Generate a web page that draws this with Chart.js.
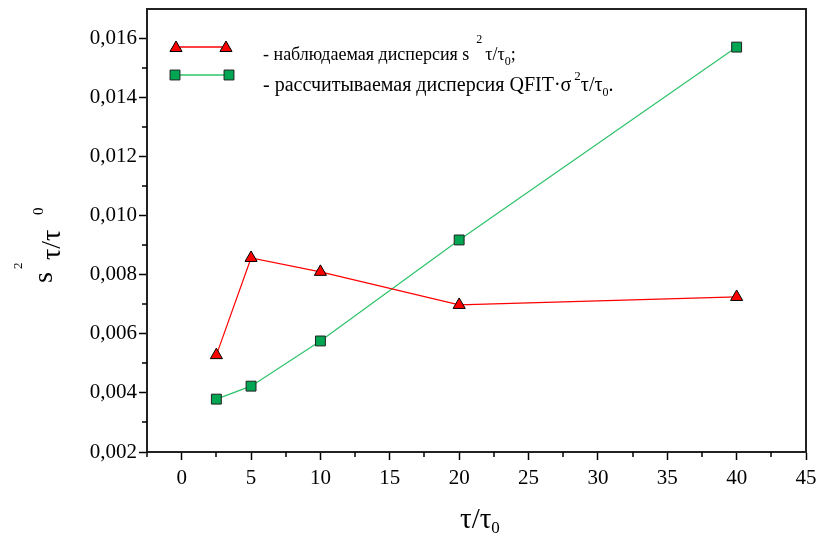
<!DOCTYPE html>
<html><head><meta charset="utf-8">
<script src="https://cdn.jsdelivr.net/npm/chart.js@4.4.1/dist/chart.umd.min.js"></script>
<style>html,body{margin:0;padding:0;background:#fff}#wrap{width:819px;height:538px;position:relative}</style>
</head><body><div id="wrap"><canvas id="c" width="819" height="538"></canvas></div>
<script>
// ---- data ----
const xValues = [2.5, 5, 10, 20, 40];
const observedValues = [0.00528, 0.00857, 0.00810, 0.00698, 0.00725];
const calculatedValues = [0.00379, 0.00423, 0.00576, 0.00918, 0.01571];
const xTickValues = [0, 5, 10, 15, 20, 25, 30, 35, 40, 45];
const xMinorValues = [-2.5, 2.5, 7.5, 12.5, 17.5, 22.5, 27.5, 32.5, 37.5, 42.5];
const yTickValues = [0.002, 0.004, 0.006, 0.008, 0.010, 0.012, 0.014, 0.016];
const yMinorValues = [0.003, 0.005, 0.007, 0.009, 0.011, 0.013, 0.015];
const legendObserved = ['- наблюдаемая дисперсия s', '2', 'τ/τ', '0', ';'];
const legendCalculated = ['- рассчитываемая дисперсия QFIT·σ', '2', 'τ/τ', '0', '.'];

const SERIF = '"Liberation Serif", "Times New Roman", serif';
const RED = '#ff0000', GREEN_FILL = '#00a651', GREEN_LINE = '#2ec36a';

function toPoints(xs, ys){ return xs.map((x,i)=>({x:x, y:ys[i]})); }

function drawRich(ctx, parts, x, y){
  let cx = x;
  for (const p of parts){
    cx += (p.pre||0);
    ctx.font = p.size + 'px ' + SERIF;
    ctx.fillText(p.t, cx, y + (p.dy||0));
    cx += ctx.measureText(p.t).width;
  }
}

function marker(ctx, style, x, y, fill, stroke){
  ctx.save();
  ctx.fillStyle = fill; ctx.strokeStyle = stroke; ctx.lineWidth = 1;
  if (Chart.helpers && Chart.helpers.drawPoint){
    Chart.helpers.drawPoint(ctx, {pointStyle: style, radius: 7, rotation: 0, borderWidth: 1}, x, y);
  }
  ctx.restore();
}

const decorPlugin = {
  id: 'decor',
  afterDraw(chart){
    const ctx = chart.ctx, a = chart.chartArea;
    const xs = chart.scales.x, ys = chart.scales.y;
    ctx.save();
    // frame top/right
    ctx.strokeStyle = '#222'; ctx.lineWidth = 2;
    ctx.beginPath();
    ctx.moveTo(a.left, a.top); ctx.lineTo(a.right, a.top); ctx.lineTo(a.right, a.bottom);
    ctx.stroke();
    // minor ticks
    ctx.lineWidth = 1.5; ctx.strokeStyle = '#000';
    ctx.beginPath();
    xMinorValues.forEach(v=>{ const px = Math.round(xs.getPixelForValue(v)); ctx.moveTo(px, a.bottom); ctx.lineTo(px, a.bottom+5); });
    yMinorValues.forEach(v=>{ const py = Math.round(ys.getPixelForValue(v)); ctx.moveTo(a.left, py); ctx.lineTo(a.left-5, py); });
    ctx.stroke();

    // legend
    ctx.strokeStyle = RED; ctx.lineWidth = 1.5;
    ctx.beginPath(); ctx.moveTo(176, 47); ctx.lineTo(226, 47); ctx.stroke();
    marker(ctx, 'triangle', 176, 48, RED, '#000');
    marker(ctx, 'triangle', 226, 48, RED, '#000');
    ctx.strokeStyle = GREEN_LINE; ctx.lineWidth = 1.5;
    ctx.beginPath(); ctx.moveTo(175, 75); ctx.lineTo(229, 75); ctx.stroke();
    marker(ctx, 'rect', 175, 75, GREEN_FILL, '#222');
    marker(ctx, 'rect', 229, 75, GREEN_FILL, '#222');

    ctx.fillStyle = '#000'; ctx.textAlign = 'left'; ctx.textBaseline = 'alphabetic';
    const L1 = legendObserved, L2 = legendCalculated;
    drawRich(ctx, [
      {t:L1[0], size:18}, {t:L1[1], size:12, dy:-17, pre:7}, {t:L1[2], size:18, pre:3},
      {t:L1[3], size:12, dy:5}, {t:L1[4], size:18}
    ], 263, 60);
    drawRich(ctx, [
      {t:L2[0], size:20}, {t:L2[1], size:13, dy:-11, pre:3}, {t:L2[2], size:20, pre:0},
      {t:L2[3], size:12, dy:5}, {t:L2[4], size:20}
    ], 263, 91);

    // x title
    drawRich(ctx, [{t:'τ/τ', size:29}, {t:'0', size:17, dy:5}], 460, 528);

    // y title (rotated)
    ctx.save();
    ctx.translate(0, 283); ctx.rotate(-Math.PI/2);
    ctx.font = '28px ' + SERIF; ctx.fillText('s', 0, 52);
    ctx.font = '13px ' + SERIF; ctx.fillText('2', 14, 22);
    ctx.font = '28px ' + SERIF; ctx.fillText('τ/τ', 23, 60);
    ctx.font = '15px ' + SERIF; ctx.fillText('0', 68, 43);
    ctx.restore();
    ctx.restore();
  }
};

new Chart(document.getElementById('c'), {
  type: 'line',
  data: {
    datasets: [
      { label: 'observed', data: toPoints(xValues, observedValues),
        borderColor: RED, borderWidth: 1.2, backgroundColor: RED,
        pointStyle: 'triangle', pointRadius: 7, pointBackgroundColor: RED,
        pointBorderColor: '#000', pointBorderWidth: 1, tension: 0 },
      { label: 'calculated', data: toPoints(xValues, calculatedValues),
        borderColor: GREEN_LINE, borderWidth: 1.2, backgroundColor: GREEN_FILL,
        pointStyle: 'rect', pointRadius: 7, pointBackgroundColor: GREEN_FILL,
        pointBorderColor: '#222', pointBorderWidth: 1, tension: 0 }
    ]
  },
  options: {
    responsive: false, animation: false, devicePixelRatio: 1,
    layout: { padding: { left: 0, right: 13, top: 9, bottom: 0 } },
    plugins: { legend: { display: false }, tooltip: { enabled: false } },
    scales: {
      x: {
        type: 'linear', min: -2.5, max: 45,
        afterBuildTicks: s => { s.ticks = xTickValues.map(v => ({ value: v })); },
        afterFit: s => { s.height = 86; s.paddingLeft = 0; s.paddingRight = 0; },
        ticks: { font: { family: SERIF, size: 21 }, color: '#000', padding: 6, maxRotation: 0, autoSkip: false,
                 callback: v => String(v) },
        grid: { drawOnChartArea: false, drawTicks: true, tickLength: 8, tickColor: '#000', tickWidth: 1.5 },
        border: { display: true, color: '#222', width: 2 }
      },
      y: {
        type: 'linear', min: 0.002, max: 0.017,
        afterBuildTicks: s => { s.ticks = yTickValues.map(v => ({ value: v })); },
        afterFit: s => { s.width = 147; s.paddingTop = 0; s.paddingBottom = 0; },
        ticks: { font: { family: SERIF, size: 21 }, color: '#000', padding: 2, autoSkip: false,
                 callback: v => v.toFixed(3).replace('.', ',') },
        grid: { drawOnChartArea: false, drawTicks: true, tickLength: 8, tickColor: '#000', tickWidth: 1.5 },
        border: { display: true, color: '#222', width: 2 }
      }
    }
  },
  plugins: [decorPlugin]
});
</script>
</body></html>
